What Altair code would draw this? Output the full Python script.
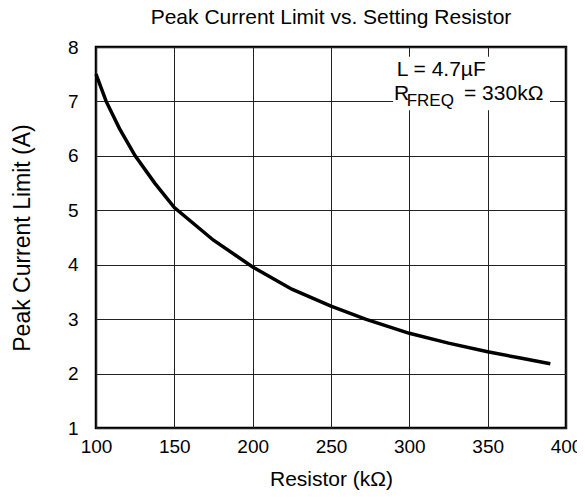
import altair as alt
import pandas as pd

resistor = [100, 106.5, 115, 125, 137.5, 150, 175, 200, 225, 250, 272, 300, 325, 350, 370, 390]
current = [7.5, 7.0, 6.5, 6.0, 5.5, 5.05, 4.45, 3.96, 3.55, 3.24, 3.0, 2.74, 2.56, 2.40, 2.29, 2.18]

x_ticks = [100, 150, 200, 250, 300, 350, 400]
y_ticks = [1, 2, 3, 4, 5, 6, 7, 8]

# annotation box (data units)
box_x = [289.6]
box_x2 = [389.8]
box_y = [7.82]
box_y2 = [6.84]

ann_text = ["L = 4.7µF", "R", "= 330kΩ"]
ann_x = [292.0, 290.2, 334.9]
ann_y = [7.46, 7.03, 7.03]
sub_text = ["FREQ"]
sub_x = [298.3]
sub_y = [6.92]

FONT = "Liberation Sans"

df = pd.DataFrame({"r": resistor, "i": current})

xs = alt.Scale(domain=[100, 400], nice=False, zero=False)
ys = alt.Scale(domain=[1, 8], nice=False, zero=False)

xaxis = alt.Axis(values=x_ticks, format="d", title="Resistor (kΩ)", grid=True, gridColor="#222222",
                 gridWidth=1, gridOpacity=1, ticks=False, domain=False,
                 labelFont=FONT, labelFontSize=19, labelColor="black", labelPadding=9,
                 titleFont=FONT, titleFontSize=21, titleFontWeight="normal", titleColor="black",
                 titlePadding=12, labelFlush=False)
yaxis = alt.Axis(values=y_ticks, format="d", title="Peak Current Limit (A)", grid=True, gridColor="#222222",
                 gridWidth=1, gridOpacity=1, ticks=False, domain=False,
                 labelFont=FONT, labelFontSize=19, labelColor="black", labelPadding=18,
                 titleFont=FONT, titleFontSize=23, titleFontWeight="normal", titleColor="black",
                 titlePadding=33, labelFlush=False)

line = alt.Chart(df).mark_line(color="black", strokeWidth=3.5).encode(
    x=alt.X("r:Q", scale=xs, axis=xaxis),
    y=alt.Y("i:Q", scale=ys, axis=yaxis),
)

box_df = pd.DataFrame({"x": box_x, "x2": box_x2, "y": box_y, "y2": box_y2})
box = alt.Chart(box_df).mark_rect(color="white").encode(
    x=alt.X("x:Q", scale=xs), x2="x2:Q", y=alt.Y("y:Q", scale=ys), y2="y2:Q"
)

ann_df = pd.DataFrame({"x": ann_x, "y": ann_y, "t": ann_text})
sub_df = pd.DataFrame({"x": sub_x, "y": sub_y, "t": sub_text})
ann_main = alt.Chart(ann_df).mark_text(
    font=FONT, fontSize=21, color="black", align="left", baseline="alphabetic"
).encode(x=alt.X("x:Q", scale=xs), y=alt.Y("y:Q", scale=ys), text="t:N")
ann_sub = alt.Chart(sub_df).mark_text(
    font=FONT, fontSize=17, color="black", align="left", baseline="alphabetic"
).encode(x=alt.X("x:Q", scale=xs), y=alt.Y("y:Q", scale=ys), text="t:N")

chart = alt.layer(line, box, ann_main, ann_sub).properties(
    width=470, height=381,
    title=alt.TitleParams("Peak Current Limit vs. Setting Resistor", font=FONT, fontSize=21,
                          fontWeight="normal", color="black", offset=10),
    autosize=alt.AutoSizeParams(type="none"),
    padding={"left": 88, "top": 39, "right": 11, "bottom": 63},
).configure_view(stroke="black", strokeWidth=2.5)

chart.save("out.html", embed_options={"renderer": "svg", "actions": False})
